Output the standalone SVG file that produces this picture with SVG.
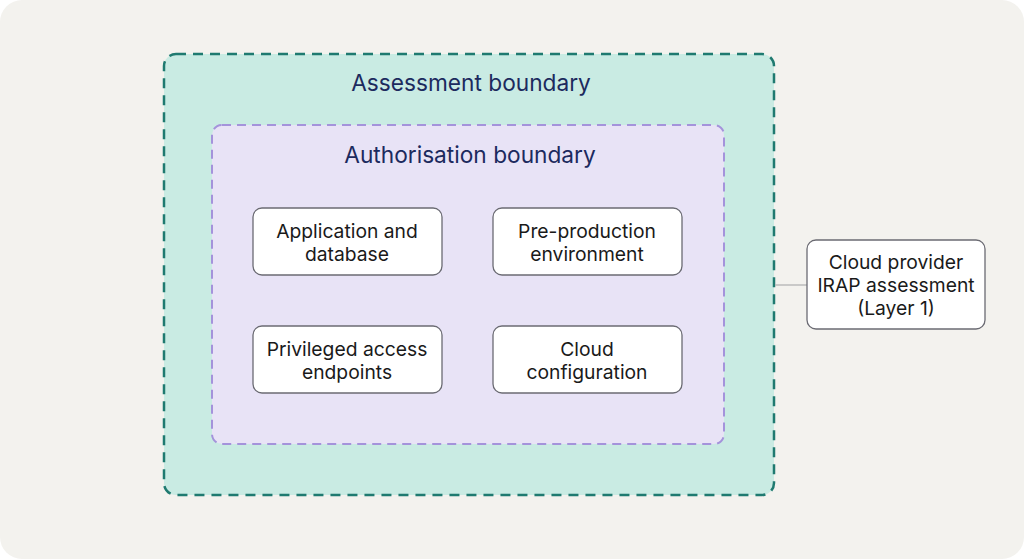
<svg xmlns="http://www.w3.org/2000/svg" width="1024" height="559" viewBox="0 0 1024 559">
<style>
.node rect{fill:#fff;stroke:#6b6b73;stroke-width:1.3}
.t{font-family:Inter,"Liberation Sans",sans-serif;font-size:19.3px;fill:#1a1a1a;text-anchor:middle}
.h{font-family:Inter,"Liberation Sans",sans-serif;font-size:22.7px;fill:#1c2a5e;text-anchor:middle}
</style>
<rect width="1024" height="559" rx="22" fill="#f3f2ee"/>
<g id="assessment">
<rect x="164" y="54" width="610" height="441" rx="12" fill="#c9ebe3" stroke="#1f7a70" stroke-width="2.5" stroke-dasharray="10 7"/>
<text class="h" x="471" y="91">Assessment boundary</text>
</g>
<g id="authorisation">
<rect x="212" y="125" width="512" height="319" rx="10" fill="#e8e3f6" stroke="#a493db" stroke-width="2" stroke-dasharray="9 6"/>
<text class="h" x="470" y="163">Authorisation boundary</text>
</g>
<g id="connectors">
<line x1="775" y1="285" x2="807" y2="285" stroke="#bbbbbb" stroke-width="1.5"/>
</g>
<g id="app" class="node"><rect x="253" y="208" width="189" height="67" rx="9"/><text class="t" x="347" y="238">Application and</text><text class="t" x="347" y="261">database</text></g>
<g id="preprod" class="node"><rect x="493" y="208" width="189" height="67" rx="9"/><text class="t" x="587" y="238">Pre-production</text><text class="t" x="587" y="261">environment</text></g>
<g id="priv" class="node"><rect x="253" y="326" width="189" height="67" rx="9"/><text class="t" x="347" y="356">Privileged access</text><text class="t" x="347" y="379">endpoints</text></g>
<g id="cloudcfg" class="node"><rect x="493" y="326" width="189" height="67" rx="9"/><text class="t" x="587" y="356">Cloud</text><text class="t" x="587" y="379">configuration</text></g>
<g id="irap" class="node"><rect x="807" y="240" width="178" height="89" rx="9"/><text class="t" x="896" y="269">Cloud provider</text><text class="t" x="896" y="292">IRAP assessment</text><text class="t" x="896" y="315">(Layer 1)</text></g>
</svg>
